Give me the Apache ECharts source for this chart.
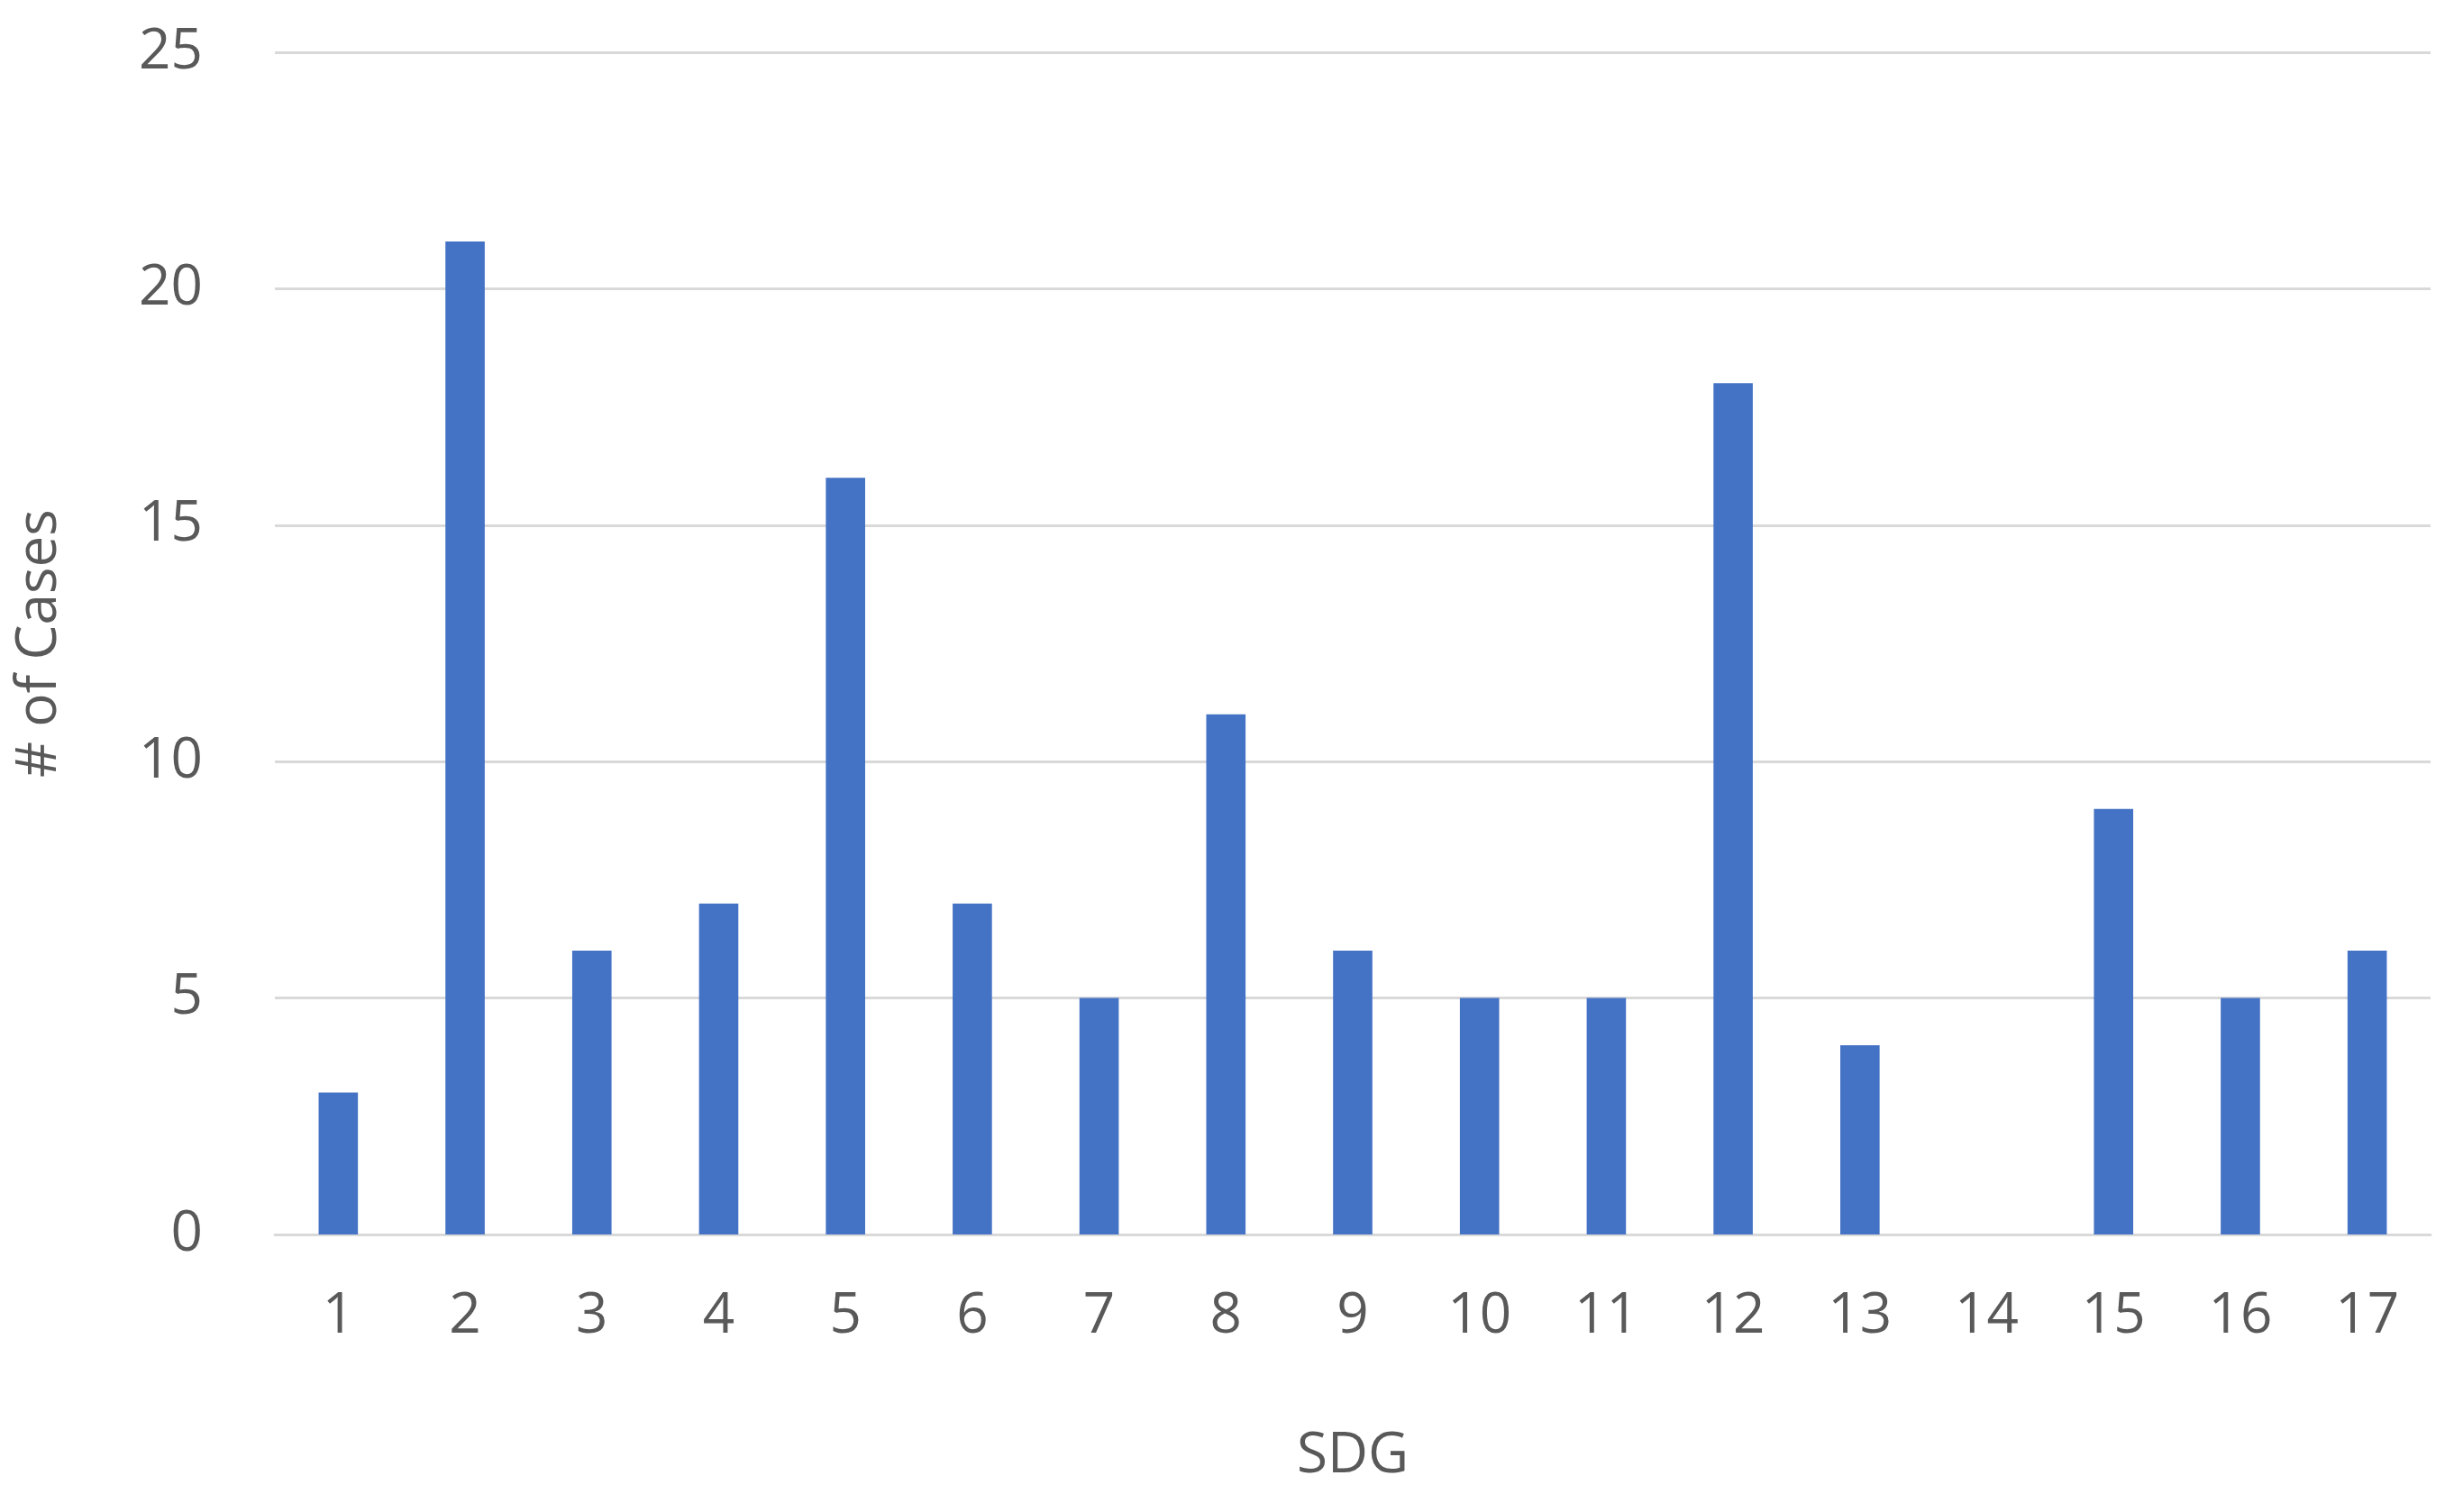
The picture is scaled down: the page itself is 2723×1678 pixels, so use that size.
<!DOCTYPE html>
<html>
<head>
<meta charset="utf-8">
<script src="https://cdn.jsdelivr.net/npm/echarts@6/dist/echarts.min.js"></script>
<style>html,body{margin:0;padding:0;background:#fff}#chart{width:2723px;height:1678px}</style>
</head>
<body>
<div id="chart"></div>
<script>
// categories and values
const sdgLabels = ['1','2','3','4','5','6','7','8','9','10','11','12','13','14','15','16','17'];
const caseCounts = [3, 21, 6, 7, 16, 7, 5, 11, 6, 5, 5, 18, 4, 0, 9, 5, 6];

const chart = echarts.init(document.getElementById('chart'));
chart.setOption({
  animation: false,
  textStyle: { fontFamily: 'Open Sans' },
  grid: { left: 305, right: 26, top: 58, bottom: 308 },
  xAxis: {
    type: 'category',
    data: sdgLabels,
    name: 'SDG',
    nameLocation: 'middle',
    nameGap: 215,
    nameTextStyle: { color: '#595959', fontSize: 62 },
    axisLine: { lineStyle: { color: '#d9d9d9', width: 3 } },
    axisTick: { show: false },
    axisLabel: { color: '#595959', fontSize: 62, margin: 60 }
  },
  yAxis: {
    type: 'value',
    min: 0, max: 25, interval: 5,
    name: '# of Cases',
    nameLocation: 'middle',
    nameGap: 230,
    nameTextStyle: { color: '#595959', fontSize: 62 },
    axisLine: { show: false },
    axisTick: { show: false },
    axisLabel: { color: '#595959', fontSize: 62, margin: 80 },
    splitLine: { lineStyle: { color: '#d9d9d9', width: 3 } }
  },
  series: [{
    type: 'bar',
    data: caseCounts,
    barWidth: '31%',
    itemStyle: { color: '#4472C4' }
  }]
});
</script>
</body>
</html>
